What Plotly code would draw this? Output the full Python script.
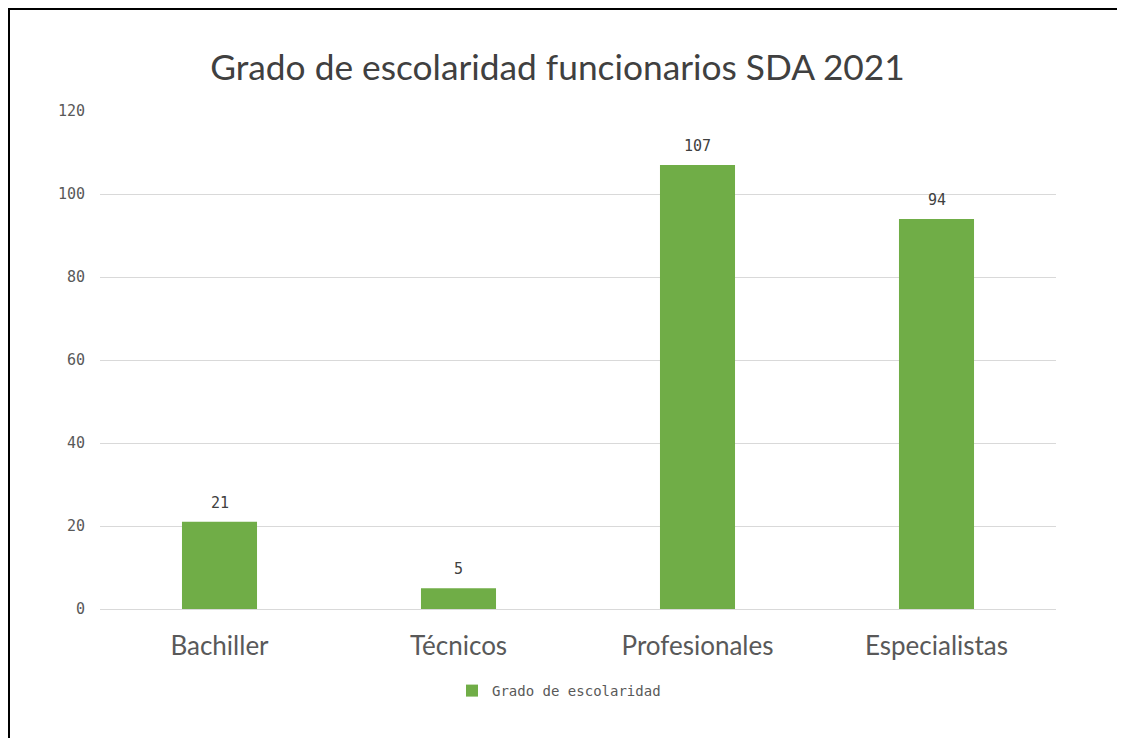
import plotly.graph_objects as go

categories = ["Bachiller", "Técnicos", "Profesionales", "Especialistas"]
values = [21, 5, 107, 94]
series_name = "Grado de escolaridad"
title = "Grado de escolaridad funcionarios SDA 2021"
y_ticks = [0, 20, 40, 60, 80, 100, 120]

green = "#70AD47"

fig = go.Figure(
    go.Bar(
        x=categories,
        y=values,
        name=series_name,
        marker=dict(color=green, line=dict(width=0)),
        showlegend=True,
    )
)

for c, v in zip(categories, values):
    fig.add_annotation(
        x=c,
        y=v,
        text=str(v),
        showarrow=False,
        xanchor="center",
        yanchor="bottom",
        yshift=8,
        font=dict(family="DejaVu Sans Mono", size=15, color="#404040"),
    )

L, R, T, B = 92, 77, 103, 137
W, H = 1125, 738
pw = W - L - R
ph = H - T - B

fig.update_layout(
    width=W,
    height=H,
    paper_bgcolor="white",
    plot_bgcolor="white",
    margin=dict(l=L, r=R, t=T, b=B),
    bargap=0.686,
    title=dict(
        text=title,
        x=549.5 / W,
        xanchor="center",
        xref="container",
        y=1 - 60 / H,
        yanchor="middle",
        yref="container",
        font=dict(family="Lato", size=35.3, color="#404040"),
    ),
    xaxis=dict(
        tickfont=dict(family="Lato", size=26, color="#595959"),
        showgrid=False,
        showline=False,
        ticks="",
        ticklabelstandoff=19,
    ),
    yaxis=dict(
        range=[0, 120],
        tickvals=y_ticks,
        tickfont=dict(family="DejaVu Sans Mono", size=15, color="#595959"),
        showgrid=True,
        gridcolor="#D9D9D9",
        gridwidth=1,
        zeroline=True,
        zerolinecolor="#D9D9D9",
        zerolinewidth=1,
        showline=False,
        ticks="",
        ticklabelstandoff=14,
    ),
    legend=dict(
        orientation="h",
        x=(444 - L) / pw,
        xanchor="left",
        y=(ph - (683 - T)) / ph,
        yanchor="middle",
        font=dict(family="DejaVu Sans Mono", size=14, color="#595959"),
        itemwidth=30,
    ),
    shapes=[
        dict(
            type="rect",
            xref="paper",
            yref="paper",
            x0=(1 - L) / pw,
            x1=1.3,
            y0=-0.6,
            y1=(ph - (1 - T)) / ph,
            line=dict(color="black", width=2),
            fillcolor="rgba(0,0,0,0)",
            layer="above",
        )
    ],
)

fig.write_html("out.html")
